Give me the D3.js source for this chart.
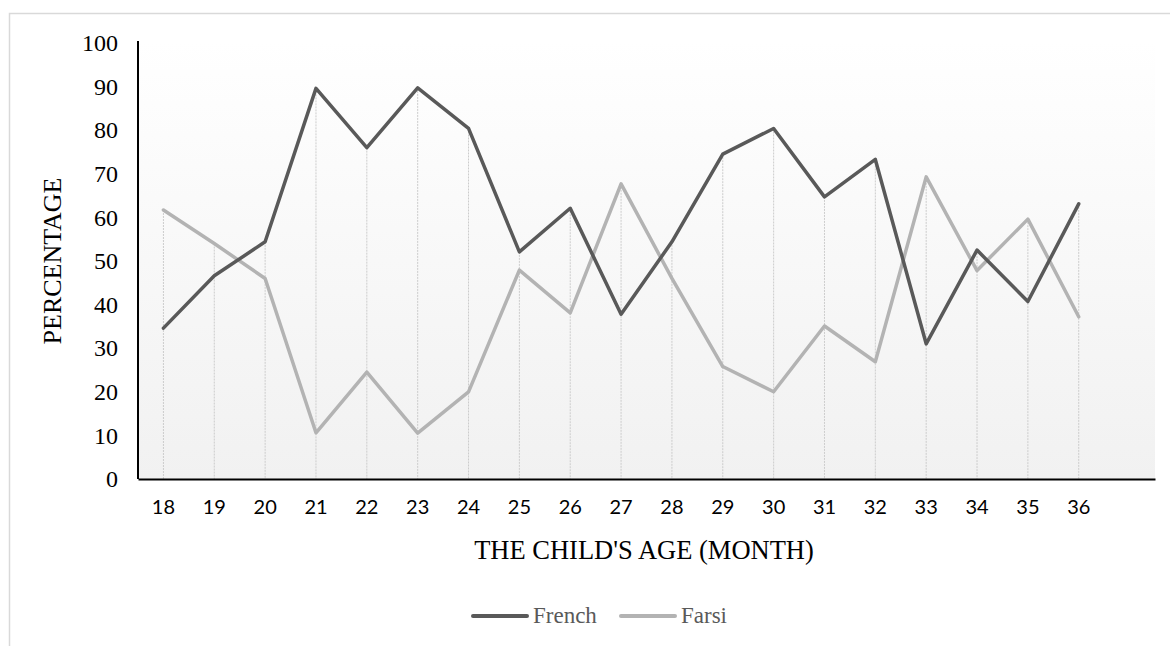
<!DOCTYPE html>
<html>
<head>
<meta charset="utf-8">
<script src="https://cdn.jsdelivr.net/npm/d3@7"></script>
<style>
  body { margin: 0; background: #fff; }
</style>
</head>
<body>
<svg id="chart" width="1170" height="646"></svg>
<script>
// data
const ages = ['18', '19', '20', '21', '22', '23', '24', '25', '26', '27', '28', '29', '30', '31', '32', '33', '34', '35', '36'];
const french = [34.6, 46.6, 54.4, 89.6, 76.0, 89.7, 80.4, 52.1, 62.1, 37.8, 54.4, 74.5, 80.4, 64.7, 73.3, 31.0, 52.5, 40.7, 63.1];
const farsi = [61.7, 54.0, 46.0, 10.6, 24.5, 10.5, 20.0, 47.9, 38.1, 67.7, 46.0, 25.8, 20.0, 35.1, 26.9, 69.3, 47.8, 59.6, 37.2];
const yTicks = [0, 10, 20, 30, 40, 50, 60, 70, 80, 90, 100];
const seriesNames = ['French', 'Farsi'];

window.Chart = window.Chart || {};

Chart.setup = {
    initConst: function() {
        Chart.left = 138;
        Chart.right = 1155;
        Chart.top = 43;
        Chart.bottom = 479;
        Chart.colors = {French: '#595959', Farsi: '#b3b3b3'};
        Chart.serif = '"Liberation Serif", "Times New Roman", serif';
        Chart.sans = 'Lato, "Open Sans", sans-serif';
    },

    initScales: function() {
        // one empty slot at the end, as in the source chart
        Chart.x = d3.scaleBand()
            .domain(ages.concat(['_blank']))
            .range([Chart.left, Chart.right]);
        Chart.y = d3.scaleLinear()
            .domain([0, 100])
            .range([Chart.bottom, Chart.top]);
    }
};

Chart.core = {
    draw: function() {
        const svg = d3.select('#chart');
        const x = Chart.x, y = Chart.y;
        const cx = d => x(d) + x.bandwidth() / 2;

        // outer frame
        svg.append('rect')
            .attr('x', 9.5).attr('y', 13.5)
            .attr('width', 1300).attr('height', 800)
            .attr('fill', '#fff')
            .attr('stroke', '#d9d9d9').attr('stroke-width', 1.5);

        // plot area gradient
        const grad = svg.append('defs').append('linearGradient')
            .attr('id', 'plotFill').attr('x1', 0).attr('y1', 0).attr('x2', 0).attr('y2', 1);
        grad.append('stop').attr('offset', '0%').attr('stop-color', '#ffffff');
        grad.append('stop').attr('offset', '100%').attr('stop-color', '#f1f1f1');
        svg.append('rect')
            .attr('x', Chart.left).attr('y', Chart.top - 2)
            .attr('width', Chart.right - Chart.left)
            .attr('height', Chart.bottom - Chart.top + 2)
            .attr('fill', 'url(#plotFill)');

        // drop lines from the highest point down to the axis
        svg.append('g').selectAll('line')
            .data(ages)
            .join('line')
            .attr('x1', d => cx(d)).attr('x2', d => cx(d))
            .attr('y1', (d, i) => y(Math.max(french[i], farsi[i])))
            .attr('y2', y(0))
            .attr('stroke', '#cccccc')
            .attr('stroke-width', 1)
            .attr('stroke-dasharray', '2,1');

        // series lines
        const line = d3.line()
            .x((d, i) => cx(ages[i]))
            .y(d => y(d));
        [['Farsi', farsi], ['French', french]].forEach(function(s) {
            svg.append('path')
                .datum(s[1])
                .attr('d', line)
                .attr('fill', 'none')
                .attr('stroke', Chart.colors[s[0]])
                .attr('stroke-width', 3.5)
                .attr('stroke-linejoin', 'round')
                .attr('stroke-linecap', 'round');
        });

        // y axis
        const yAxis = svg.append('g')
            .attr('transform', 'translate(' + Chart.left + ',0)')
            .call(d3.axisLeft(y).tickValues(yTicks).tickSize(0).tickPadding(20));
        yAxis.select('.domain').attr('stroke', '#000').attr('stroke-width', 2)
            .attr('d', 'M0,' + (Chart.top - 2) + 'V' + Chart.bottom);
        yAxis.selectAll('text')
            .attr('font-family', Chart.serif).attr('font-size', 24).attr('fill', '#000');

        // x axis
        const xAxis = svg.append('g')
            .attr('transform', 'translate(0,' + Chart.bottom + ')')
            .call(d3.axisBottom(x).tickValues(ages).tickSize(0).tickPadding(21));
        xAxis.select('.domain').attr('stroke', '#000').attr('stroke-width', 2);
        xAxis.selectAll('text')
            .attr('font-family', Chart.sans).attr('font-size', 20).attr('fill', '#000');

        // axis titles
        svg.append('text')
            .attr('x', 644).attr('y', 559)
            .attr('text-anchor', 'middle')
            .attr('font-family', Chart.serif).attr('font-size', 26.5)
            .text("THE CHILD'S AGE (MONTH)");
        svg.append('text')
            .attr('transform', 'translate(61,261) rotate(-90)')
            .attr('text-anchor', 'middle')
            .attr('font-family', Chart.serif).attr('font-size', 26)
            .text('PERCENTAGE');

        Chart.core.drawLegend(svg);
    },

    drawLegend: function(svg) {
        const items = [
            {name: 'French', x: 473},
            {name: 'Farsi', x: 621}
        ];
        const g = svg.append('g');
        items.forEach(function(it) {
            g.append('line')
                .attr('x1', it.x).attr('x2', it.x + 54)
                .attr('y1', 616).attr('y2', 616)
                .attr('stroke', Chart.colors[it.name])
                .attr('stroke-width', 4)
                .attr('stroke-linecap', 'round');
            g.append('text')
                .attr('x', it.x + 60).attr('y', 623)
                .attr('font-family', Chart.serif).attr('font-size', 23)
                .attr('fill', '#595959')
                .text(it.name);
        });
    }
};

Chart.setup.initConst();
Chart.setup.initScales();
Chart.core.draw();
</script>
</body>
</html>
